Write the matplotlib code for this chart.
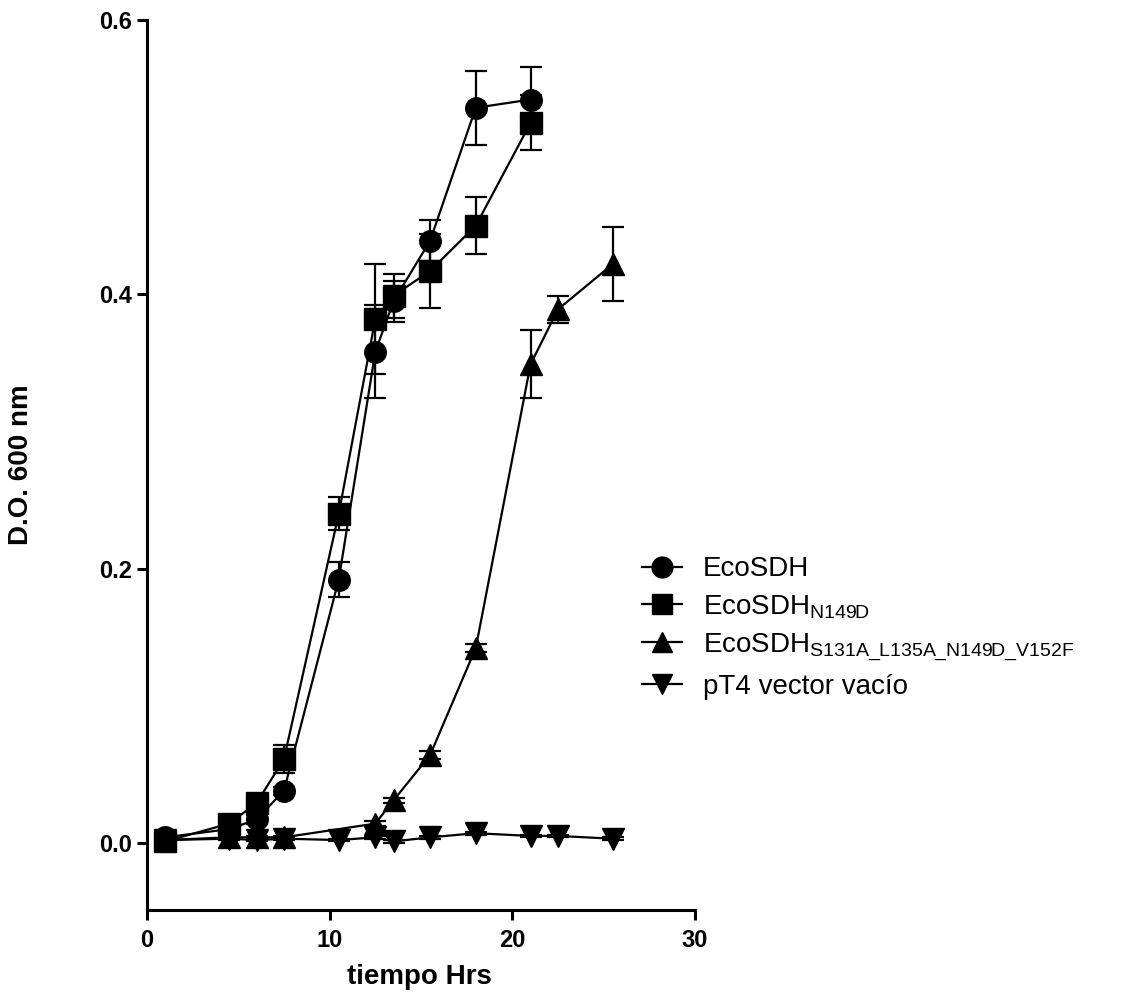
import matplotlib
matplotlib.use("Agg")
import matplotlib.pyplot as plt
from matplotlib.lines import Line2D

plt.rcParams['font.family'] = ['Liberation Sans', 'DejaVu Sans']
plt.rcParams['mathtext.fontset'] = 'custom'
plt.rcParams['mathtext.rm'] = 'Liberation Sans'

# EcoSDH (circles)
t_wt = [1, 4.5, 6, 7.5, 10.5, 12.5, 13.5, 15.5, 18, 21]
y_wt = [0.004, 0.010, 0.017, 0.038, 0.192, 0.358, 0.395, 0.439, 0.536, 0.542]
e_wt = [0.002, 0.003, 0.003, 0.003, 0.0125, 0.034, 0.015, 0.015, 0.027, 0.024]

# EcoSDH N149D (squares)
t_n = [1, 4.5, 6, 7.5, 10.5, 12.5, 13.5, 15.5, 18, 21]
y_n = [0.001, 0.014, 0.029, 0.061, 0.240, 0.382, 0.399, 0.417, 0.450, 0.525]
e_n = [0.002, 0.003, 0.003, 0.010, 0.012, 0.040, 0.016, 0.027, 0.021, 0.020]

# EcoSDH S131A_L135A_N149D_V152F (triangles up)
t_m = [1, 4.5, 6, 7.5, 12.5, 13.5, 15.5, 18, 21, 22.5, 25.5]
y_m = [0.002, 0.004, 0.004, 0.004, 0.014, 0.031, 0.064, 0.142, 0.349, 0.389, 0.422]
e_m = [0.001, 0.001, 0.001, 0.001, 0.002, 0.002, 0.003, 0.003, 0.025, 0.010, 0.027]

# pT4 vector vacio (triangles down)
t_v = [1, 4.5, 6, 7.5, 10.5, 12.5, 13.5, 15.5, 18, 21, 22.5, 25.5]
y_v = [0.002, 0.003, 0.002, 0.003, 0.002, 0.004, 0.001, 0.004, 0.007, 0.005, 0.005, 0.003]
e_v = [0.001, 0.001, 0.001, 0.001, 0.001, 0.001, 0.001, 0.001, 0.001, 0.001, 0.001, 0.001]

labels = [
    "EcoSDH",
    r"EcoSDH$_{\mathregular{N149D}}$",
    r"EcoSDH$_{\mathregular{S131A\_L135A\_N149D\_V152F}}$",
    "pT4 vector vacío",
]

fig = plt.figure(figsize=(11.41, 10), dpi=100)
ax = fig.add_axes([0.1288, 0.09, 0.4803, 0.89])

series = [(t_wt, y_wt, e_wt, 'o'), (t_n, y_n, e_n, 's'),
          (t_m, y_m, e_m, '^'), (t_v, y_v, e_v, 'v')]
handles = []
for t, y, e, m in series:
    ax.errorbar(t, y, yerr=e, color='black', marker=m, markersize=15.5,
                linewidth=1.6, elinewidth=1.6, capsize=8, capthick=1.6)
    handles.append(Line2D([], [], color='black', marker=m, markersize=15,
                          linewidth=1.6))

ax.set_xlim(0, 30)
ax.set_ylim(-0.049, 0.6)
ax.set_xticks([0, 10, 20, 30])
ax.set_yticks([0.0, 0.2, 0.4, 0.6])
ax.set_yticklabels(["0.0", "0.2", "0.4", "0.6"])
ax.spines['top'].set_visible(False)
ax.spines['right'].set_visible(False)
ax.spines['left'].set_linewidth(2.2)
ax.spines['bottom'].set_linewidth(2.2)
ax.tick_params(direction='out', length=7, width=2.2, labelsize=17)
ax.tick_params(axis='x', pad=7)
ax.tick_params(axis='y', pad=4)
for lbl in ax.get_xticklabels() + ax.get_yticklabels():
    lbl.set_fontweight('bold')

ax.set_xlabel("tiempo Hrs", fontsize=20, fontweight='bold')
ax.set_ylabel("D.O. 600 nm", fontsize=20, fontweight='bold')
ax.xaxis.set_label_coords(0.497, -0.061)
ax.yaxis.set_label_coords(-0.207, 0.5)

fig.legend(handles=handles, labels=labels, loc='center left',
           bbox_to_anchor=(0.5625, 0.372), frameon=False, fontsize=20,
           handlelength=1.45, handletextpad=0.75, labelspacing=0.38,
           borderpad=0, borderaxespad=0)

fig.savefig("out.png", dpi=100)
